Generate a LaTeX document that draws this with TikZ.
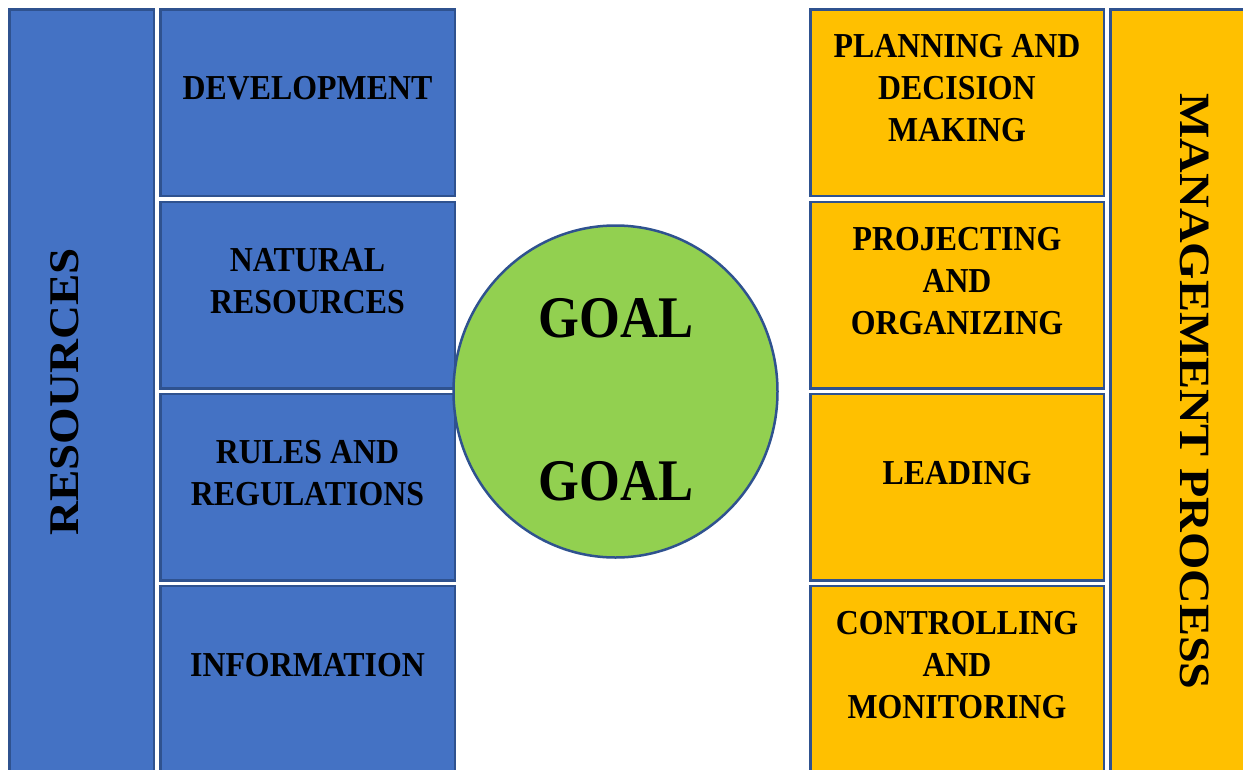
\documentclass[tikz,border=0pt]{standalone}
\usepackage{fontspec}
\setmainfont{Liberation Serif}
\usepackage{graphicx}
\definecolor{bordC}{HTML}{2F528F}
\definecolor{blueF}{HTML}{4472C4}
\definecolor{yellowF}{HTML}{FFC000}
\definecolor{greenF}{HTML}{92D050}
\newcommand{\boxtext}[1]{\scalebox{0.91}[1]{\fontsize{35}{42}\selectfont\bfseries\begin{tabular}{@{}c@{}}#1\end{tabular}}}
\newcommand{\goaltext}{\scalebox{0.89}[1]{\fontsize{59}{59}\selectfont\bfseries GOAL}}
\newcommand{\vtext}[1]{\scalebox{1}[0.9]{\fontsize{47}{47}\selectfont\bfseries #1}}
\newcommand{\vtextb}[1]{\scalebox{1}[0.9]{\fontsize{48}{48}\selectfont\bfseries #1}}
\tikzset{
  cell/.style={draw=bordC, line width=2.5pt, inner sep=0pt},
  bluecell/.style={cell, fill=blueF, minimum width=294.5pt, minimum height=186.5pt},
  yellowcell/.style={cell, fill=yellowF, minimum width=293.5pt, minimum height=186.5pt},
  lbl/.style={inner sep=0pt, text=black},
}
\begin{document}
\begin{tikzpicture}[x=1pt,y=-1pt]
\useasboundingbox (0,0) rectangle (1243,769);
\clip (0,0) rectangle (1243,769);
% left column
\node[cell, fill=blueF, minimum width=144.5pt, minimum height=769.5pt] (rescol) at (81.5,394) {};
\node[lbl, rotate=90] (restxt) at (65,392) {\vtext{RESOURCES}};
% blue boxes
\node[bluecell] (b1) at (307.5,102.5) {};
\node[bluecell] (b2) at (307.5,295) {};
\node[bluecell] (b3) at (307.5,487) {};
\node[bluecell] (b4) at (307.5,679) {};
\node[lbl] (b1t) at ([yshift=11.3pt]b1.center) {\boxtext{DEVELOPMENT}};
\node[lbl] (b2t) at ([yshift=11.3pt]b2.center) {\boxtext{NATURAL\\RESOURCES}};
\node[lbl] (b3t) at ([yshift=11.3pt]b3.center) {\boxtext{RULES AND\\REGULATIONS}};
\node[lbl] (b4t) at ([yshift=11.3pt]b4.center) {\boxtext{INFORMATION}};
% yellow boxes
\node[yellowcell] (y1) at (957,102.5) {};
\node[yellowcell] (y2) at (957,295) {};
\node[yellowcell] (y3) at (957,487) {};
\node[yellowcell] (y4) at (957,679) {};
\node[lbl] (y1t) at ([yshift=11.3pt]y1.center) {\boxtext{PLANNING AND\\DECISION\\MAKING}};
\node[lbl] (y2t) at ([yshift=11.3pt]y2.center) {\boxtext{PROJECTING\\AND\\ORGANIZING}};
\node[lbl] (y3t) at ([yshift=11.3pt]y3.center) {\boxtext{LEADING}};
\node[lbl] (y4t) at ([yshift=11.3pt]y4.center) {\boxtext{CONTROLLING\\AND\\MONITORING}};
% right column
\node[cell, fill=yellowF, minimum width=148.5pt, minimum height=769.5pt] (mgmtcol) at (1184.5,394) {};
\node[lbl, rotate=-90] (mgmttxt) at (1195,391.5) {\vtextb{MANAGEMENT PROCESS}};
% goal circle
\draw[draw=bordC, fill=greenF, line width=2.5pt] (615.5,391.5) ellipse [x radius=162, y radius=166];
\node[lbl, anchor=base] (g1) at (616,337) {\goaltext};
\node[lbl, anchor=base] (g2) at (616,500) {\goaltext};
\end{tikzpicture}
\end{document}
